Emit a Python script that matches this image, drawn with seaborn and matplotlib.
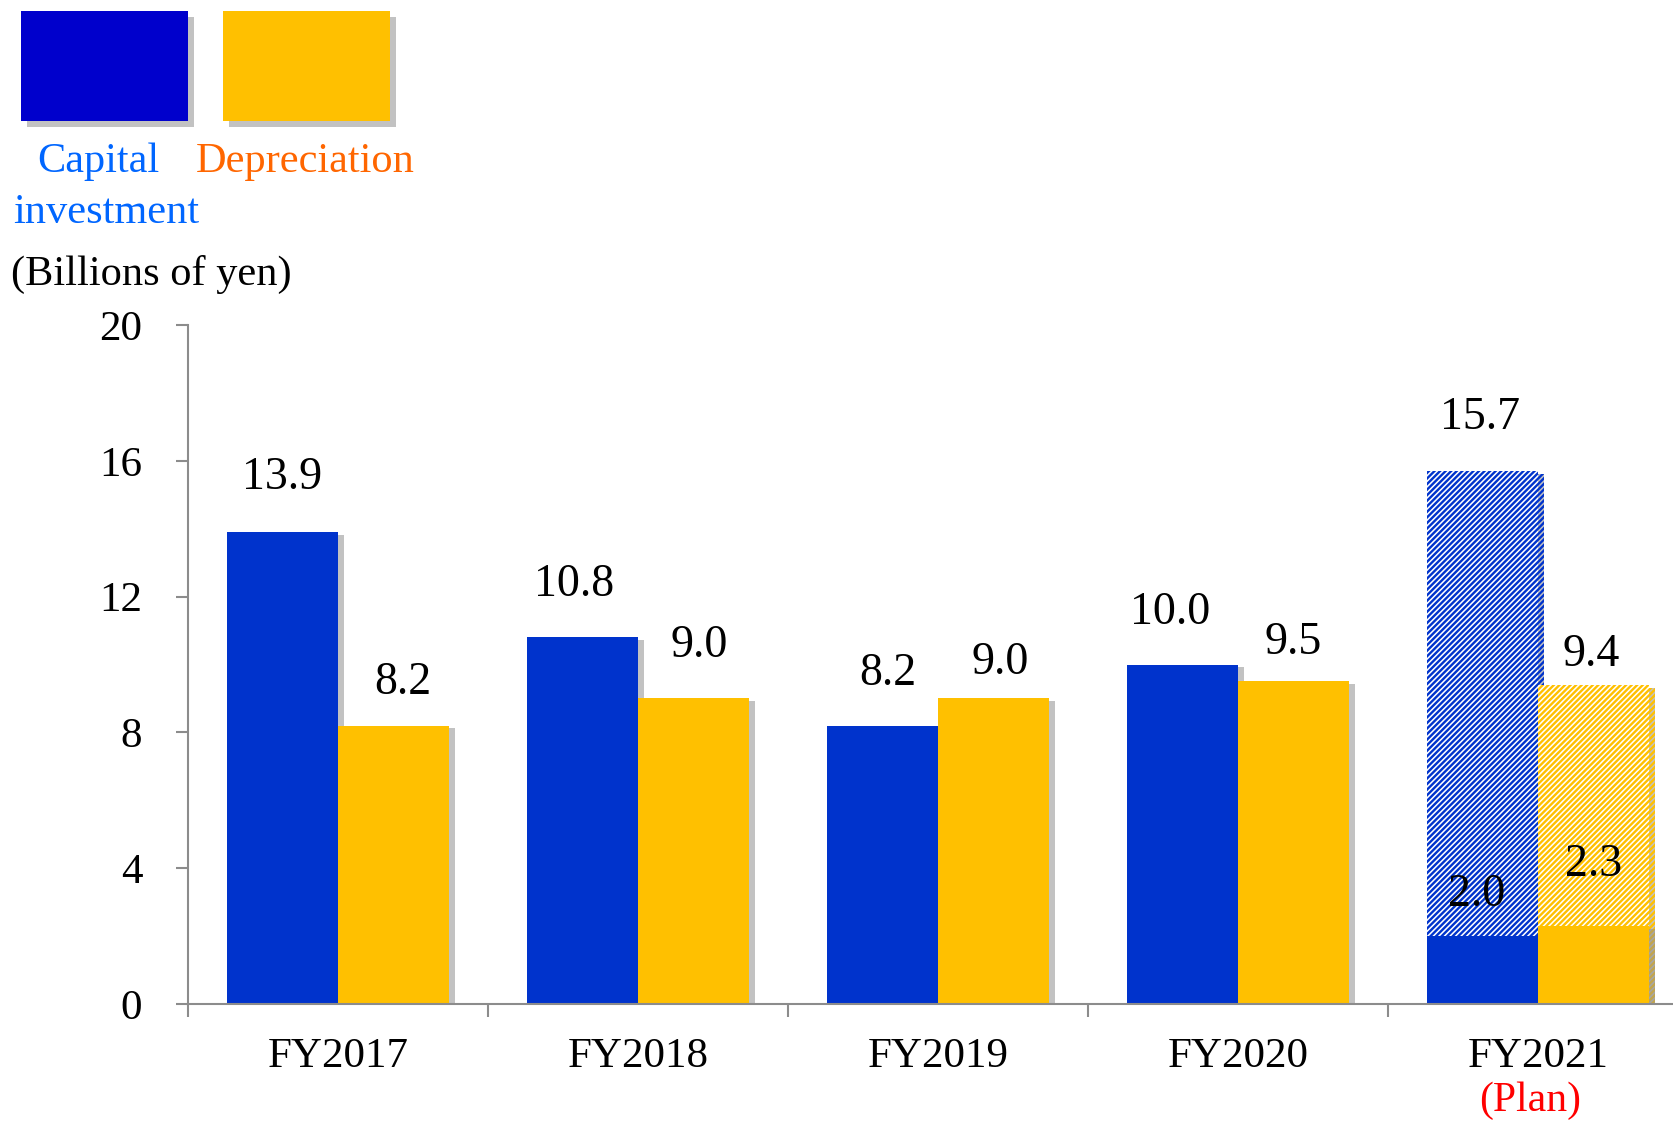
import matplotlib
matplotlib.use("Agg")
import matplotlib.pyplot as plt
import matplotlib.patheffects as pe
from matplotlib.patches import Rectangle
from matplotlib.ticker import FixedLocator
import seaborn as sns
import pandas as pd

# ---------------- data ----------------
years = ["FY2017", "FY2018", "FY2019", "FY2020", "FY2021"]
capital_investment = [13.9, 10.8, 8.2, 10.0, 2.0]
depreciation = [8.2, 9.0, 9.0, 9.5, 2.3]
plan_year = "FY2021"
plan_capital = 15.7
plan_depreciation = 9.4
series_names = ["Capital investment", "Depreciation"]
yticks = [0, 4, 8, 12, 16, 20]

# label offsets above bar tops (points) - styling only
cap_offsets = [39, 38, 37, 37, 30]
dep_offsets = [31, 38, 26, 28, 44]
cap_xoff = [0, -6, 4, -9, -4]
dep_xoff = [7, 4, 5, 0, 0]
plan_offsets = [38, 22]

# ---------------- style ----------------
sns.set_theme(style="white")
plt.rcParams["font.family"] = ["Liberation Serif", "DejaVu Serif"]
plt.rcParams["hatch.linewidth"] = 1.7

BLUE = "#0033CC"
ORANGE = "#FFC000"
GRAY = "#8C8C8C"

df = pd.DataFrame({
    "year": years * 2,
    "series": [series_names[0]] * len(years) + [series_names[1]] * len(years),
    "value": capital_investment + depreciation,
})
df_plan = pd.DataFrame({
    "year": [plan_year, plan_year],
    "series": series_names,
    "value": [plan_capital, plan_depreciation],
})

W, H = 1673, 1121
fig = plt.figure(figsize=(W / 100, H / 100), dpi=100)
ax = fig.add_axes([188 / W, (H - 1004) / H, (W - 188) / W, (1004 - 325) / H])

shadow = [pe.SimplePatchShadow(offset=(4, -2), shadow_rgbFace="#909090", alpha=0.55), pe.Normal()]

# planned (hatched) bars
sns.barplot(data=df_plan, x="year", y="value", hue="series", order=years,
            hue_order=series_names, palette=[BLUE, ORANGE], width=0.74,
            ax=ax, legend=False, saturation=1, errorbar=None)
plan_patches = list(ax.patches)
for p, col in zip(plan_patches, [BLUE, ORANGE]):
    p.set_facecolor("white")
    p.set_edgecolor(col)
    p.set_hatch("//////")
    p.set_linewidth(0)
    p.set_path_effects(shadow)

# actual bars
sns.barplot(data=df, x="year", y="value", hue="series", order=years,
            hue_order=series_names, palette=[BLUE, ORANGE], width=0.74,
            ax=ax, legend=False, saturation=1, errorbar=None)
actual_containers = ax.containers[-2:]
for cont in actual_containers:
    for p in cont:
        p.set_linewidth(0)
        p.set_path_effects(shadow)

# value labels
label_fs = 33
for cont, vals, offs, xoffs in zip(actual_containers, [capital_investment, depreciation],
                                   [cap_offsets, dep_offsets], [cap_xoff, dep_xoff]):
    for p, v, o, xo in zip(cont, vals, offs, xoffs):
        ax.annotate(f"{v:.1f}", (p.get_x() + p.get_width() / 2, p.get_height()),
                    xytext=(xo, o), textcoords="offset points", ha="center", va="center",
                    fontsize=label_fs, color="black", zorder=5)
for p, v, o in zip(plan_patches, [plan_capital, plan_depreciation], plan_offsets):
    ax.annotate(f"{v:.1f}", (p.get_x() + p.get_width() / 2, p.get_height()),
                xytext=(-2, o), textcoords="offset points", ha="center", va="center",
                fontsize=label_fs, color="black", zorder=5)

# axes
ax.set_xlim(-0.5, 4.45)
ax.set_ylim(0, 20)
ax.set_xlabel("")
ax.set_ylabel("")
ax.set_yticks(yticks)
ax.set_yticklabels([str(t) for t in yticks], fontsize=31)
ax.set_xticks(range(len(years)))
ax.set_xticklabels(years, fontsize=31)
ax.xaxis.set_minor_locator(FixedLocator([-0.5, 0.5, 1.5, 2.5, 3.5]))
ax.tick_params(axis="x", which="major", length=0, pad=24, colors="black")
ax.tick_params(axis="x", which="minor", length=9, width=1.5, color=GRAY, direction="out", bottom=True)
ax.tick_params(axis="y", which="major", length=9, width=1.5, color=GRAY, direction="out",
               pad=24, left=True, labelcolor="black")
for s in ["top", "right"]:
    ax.spines[s].set_visible(False)
for s in ["left", "bottom"]:
    ax.spines[s].set_color(GRAY)
    ax.spines[s].set_linewidth(1.5)
ax.set_facecolor("white")
ax.grid(False)

ax.annotate("(Plan)", xy=(4, 0), xycoords=("data", "axes fraction"),
            xytext=(-6, -70), textcoords="offset points", ha="center", va="center",
            fontsize=30, color="#FF0000", annotation_clip=False)

# legend (manual)
lshadow = [pe.SimplePatchShadow(offset=(4, -4), shadow_rgbFace="#909090", alpha=0.55), pe.Normal()]
for x0, col in [(21, "#0000CC"), (223, ORANGE)]:
    r = Rectangle((x0 / W, 1 - 121 / H), 167 / W, 110 / H, transform=fig.transFigure,
                  facecolor=col, edgecolor="none")
    r.set_path_effects(lshadow)
    fig.add_artist(r)
fig.text(98 / W, 1 - 162 / H, "Capital", ha="center", va="center", fontsize=30.5, color="#0066FF")
fig.text(106 / W, 1 - 213 / H, "investment", ha="center", va="center", fontsize=30.5, color="#0066FF")
fig.text(305 / W, 1 - 162 / H, "Depreciation", ha="center", va="center", fontsize=30.5, color="#FF6600")
fig.text(11 / W, 1 - 274 / H, "(Billions of yen)", ha="left", va="center", fontsize=30.5, color="black")

fig.savefig("out.png", dpi=100, facecolor="white")
